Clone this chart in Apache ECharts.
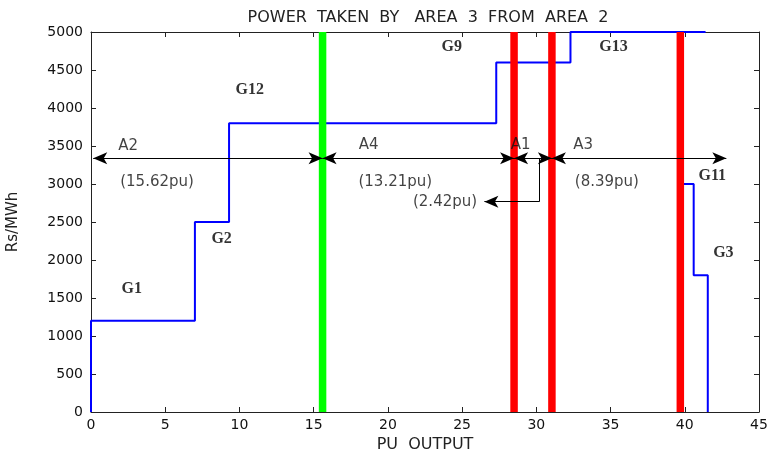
<!DOCTYPE html>
<html><head><meta charset="utf-8">
<script src="https://cdn.jsdelivr.net/npm/echarts@6/dist/echarts.min.js"></script>
<style>html,body{margin:0;padding:0;background:#fff;overflow:hidden}#c{width:770px;height:452px}</style>
</head><body><div id="c"></div>
<script>
// ---- data ----
const title = 'POWER  TAKEN  BY   AREA  3  FROM  AREA  2';
const xName = 'PU  OUTPUT';
const yName = 'Rs/MWh';
// main merit-order step curve: breakpoints in x and price level of each step
const stepX = [0, 7, 9.3, 27.3, 32.3, 41.4];
const stepY = [1200, 2500, 3800, 4600, 5000];
// tail step segment (G11 / G3)
const tailX = [39.7, 40.6, 41.55];
const tailY = [3000, 1800];
// area boundary lines
const boundaryX = [15.6, 28.5, 31.05, 39.7];
const boundaryColor = ['#00ff00', '#ff0000', '#ff0000', '#ff0000'];
// double-headed arrows
const arrowY = 3340;
const arrowStart = [0.15, 15.6, 28.5, 31.05];
const arrowEnd = [15.6, 28.5, 31.05, 42.8];
// callout to (2.42pu)
const calloutX = 30.2, calloutY = 2767, calloutEndX = 26.5;
// text annotations
const annoText = ['A2', '(15.62pu)', 'A4', '(13.21pu)', '(2.42pu)', 'A1', 'A3', '(8.39pu)'];
const annoX = [2.5, 4.45, 18.7, 20.5, 23.85, 28.95, 33.15, 34.75];
const annoY = [3500, 3030, 3510, 3030, 2767, 3510, 3510, 3030];
const genText = ['G1', 'G2', 'G12', 'G9', 'G13', 'G11', 'G3'];
const genX = [2.75, 8.8, 10.7, 24.3, 35.2, 41.85, 42.6];
const genY = [1620, 2280, 4240, 4810, 4810, 3110, 2090];

// ---- build ----
const stepPts = [[stepX[0], 0]];
for (let i = 0; i < stepY.length; i++) {
  stepPts.push([stepX[i], stepY[i]]);
  stepPts.push([stepX[i + 1], stepY[i]]);
}
const tailPts = [];
for (let i = 0; i < tailY.length; i++) {
  tailPts.push([tailX[i], tailY[i]]);
  tailPts.push([tailX[i + 1], tailY[i]]);
}
tailPts.push([tailX[tailX.length - 1], 0]);

const boundarySeries = boundaryX.map((x, i) => ({
  type: 'line', data: [[x, 0], [x, 5000]], symbol: 'none', z: 4, silent: true,
  lineStyle: { color: boundaryColor[i], width: 7.5 }, clip: false
}));

const arrowData = arrowStart.map((s, i) => [{ coord: [s, arrowY] }, { coord: [arrowEnd[i], arrowY] }]);
arrowData.push([{ coord: [calloutX, arrowY], symbol: 'none' }, { coord: [calloutX, calloutY], symbol: 'none' }]);
arrowData.push([{ coord: [calloutX, calloutY], symbol: 'none' }, { coord: [calloutEndX, calloutY] }]);

const fontSans = 'DejaVu Sans';
const chart = echarts.init(document.getElementById('c'));
const axisCommon = () => ({
  axisLine: { show: true, onZero: false, lineStyle: { color: '#222', width: 1 } },
  axisTick: { show: true, inside: true, length: 5, lineStyle: { color: '#222' } },
  splitLine: { show: false }
});
const plain = v => String(v);
chart.setOption({
  animation: false,
  backgroundColor: '#fff',
  title: { text: title, left: 423, top: 5, textAlign: 'center',
    textStyle: { fontFamily: fontSans, fontSize: 16, fontWeight: 'normal', color: '#222' } },
  grid: { left: 91, right: 11, top: 32, bottom: 40, containLabel: false, outerBoundsMode: 'none' },
  xAxis: [
    Object.assign({ type: 'value', min: 0, max: 45, interval: 5, name: xName, nameLocation: 'middle', nameGap: 24,
      nameTextStyle: { fontFamily: fontSans, fontSize: 16, color: '#222' },
      axisLabel: { fontFamily: fontSans, fontSize: 14, color: '#111', margin: 6, formatter: plain } }, axisCommon()),
    Object.assign({ type: 'value', min: 0, max: 45, interval: 5, position: 'top', axisLabel: { show: false } }, axisCommon())
  ],
  yAxis: [
    Object.assign({ type: 'value', min: 0, max: 5000, interval: 500, name: yName, nameLocation: 'middle', nameGap: 70,
      nameTextStyle: { fontFamily: fontSans, fontSize: 15, color: '#222' },
      axisLabel: { fontFamily: fontSans, fontSize: 14, color: '#111', margin: 8, formatter: plain } }, axisCommon()),
    Object.assign({ type: 'value', min: 0, max: 5000, interval: 500, position: 'right', axisLabel: { show: false } }, axisCommon())
  ],
  series: [
    { type: 'line', data: stepPts, symbol: 'none', z: 3, clip: false, lineStyle: { color: '#0000ff', width: 2 } },
    { type: 'line', data: tailPts, symbol: 'none', z: 3, clip: false, lineStyle: { color: '#0000ff', width: 2 } },
    ...boundarySeries,
    { type: 'line', data: [], z: 6,
      markLine: { silent: true, symbol: ['arrow', 'arrow'], symbolSize: [9, 14], label: { show: false },
        lineStyle: { color: '#000', width: 1, type: 'solid' }, data: arrowData, z: 6 } },
    { type: 'scatter', symbolSize: 0, z: 7, silent: true,
      data: annoText.map((t, i) => ({ value: [annoX[i], annoY[i]], label: { formatter: t } })),
      label: { show: true, position: 'inside', fontFamily: fontSans, fontSize: 15, color: '#111' } },
    { type: 'scatter', symbolSize: 0, z: 7, silent: true,
      data: genText.map((t, i) => ({ value: [genX[i], genY[i]], label: { formatter: t } })),
      label: { show: true, position: 'inside', fontFamily: 'Liberation Serif', fontWeight: 'bold', fontSize: 16, color: '#000' } }
  ]
});
</script></body></html>
